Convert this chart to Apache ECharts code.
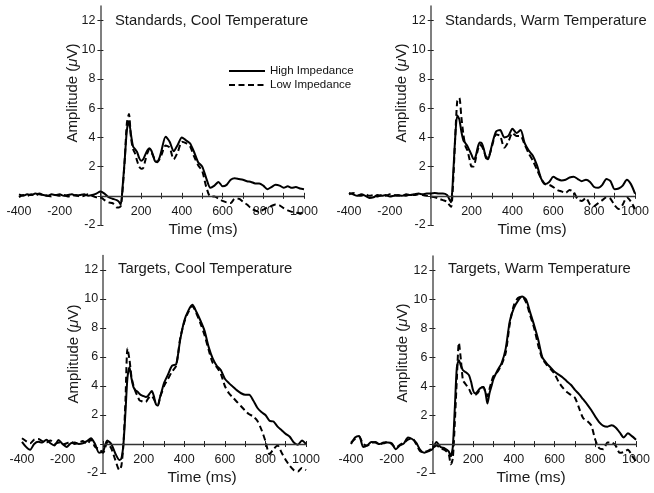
<!DOCTYPE html>
<html><head><meta charset="utf-8">
<script src="https://cdn.jsdelivr.net/npm/echarts@6/dist/echarts.min.js"></script>
<style>html,body{margin:0;padding:0;background:#fff}#c{width:654px;height:493px}</style>
</head><body><div id="c"></div>
<script>
// ---------- DATA ----------
const times = [-400,-380,-360,-340,-320,-300,-280,-260,-240,-220,-200,-180,-160,-140,-120,-100,-80,-60,-40,-20,0,20,40,60,80,
  90,100,110,120,130,140,150,160,170,180,190,200,210,220,230,240,250,260,270,280,290,300,
  320,340,360,380,400,420,440,460,480,500,520,540,560,580,600,620,640,660,680,700,720,740,760,780,800,820,840,860,880,900,920,940,960,980,1000];

const xTickLabels = [-400,-200,200,400,600,800,1000];
const xTickMarks = [0,100,200,300,400,500,600,700,800,900,1000];
const yTickLabels = [-2,2,4,6,8,10,12];
const yTickMarks = [-2,0,2,4,6,8,10,12];
const seriesNames = ['High Impedance','Low Impedance'];
const panelTitles = ['Standards, Cool Temperature','Standards, Warm Temperature','Targets, Cool Temperature','Targets, Warm Temperature'];
const xAxisTitle = 'Time (ms)';

const stdCoolHigh = [0.1,0.0,0.1,0.05,0.15,0.1,0.05,0.0,0.1,0.05,0.1,0.0,0.05,0.1,0.0,0.05,0.1,0.0,0.05,0.15,0.3,0.15,-0.1,-0.2,-0.3,
  -0.4,-0.6,0.8,2.6,4.5,5.1,4.2,3.4,3.2,3.0,2.6,2.4,2.5,2.8,3.1,3.25,3.1,2.7,2.35,2.35,2.6,3.1,
  4.05,3.7,3.05,3.5,4.0,3.8,3.6,3.0,2.3,2.0,1.2,0.55,0.7,0.95,0.65,0.75,1.1,1.2,1.15,1.1,1.0,0.95,0.85,0.85,0.7,0.45,0.6,0.75,0.7,0.55,0.65,0.55,0.6,0.5,0.45];
const stdCoolLow = [-0.1,0.05,0.0,0.1,0.0,0.15,0.05,0.0,-0.05,0.05,0.0,0.05,-0.05,0.0,0.05,-0.05,0.0,0.1,0.0,-0.1,-0.1,-0.3,-0.45,-0.5,-0.8,
  -0.8,-0.7,0.6,2.6,5.0,5.6,4.0,3.2,2.9,2.4,2.0,1.85,1.9,2.4,2.9,3.15,3.0,2.7,2.35,2.3,2.5,2.8,
  3.45,3.3,2.5,3.0,3.7,3.6,3.4,2.7,2.1,1.7,0.6,-0.05,-0.05,-0.2,-0.35,-0.45,-0.5,-0.2,-0.2,-0.4,-0.6,-0.85,-1.0,-1.1,-0.95,-0.8,-0.7,-0.6,-0.65,-0.85,-1.0,-1.1,-1.15,-1.2,-1.1];
const stdWarmHigh = [0.2,0.1,0.0,0.1,0.0,-0.15,-0.1,0.05,0.0,0.05,-0.05,0.0,0.05,0.0,0.1,0.05,0.1,0.15,0.1,0.15,0.15,0.2,0.15,0.15,0.05,
  -0.2,-0.45,1.5,4.0,5.5,5.25,4.4,3.8,3.6,3.4,3.1,2.8,2.5,2.7,3.3,3.65,3.6,3.2,2.6,2.5,2.9,3.5,
  4.4,4.5,4.0,4.1,4.6,4.3,4.5,3.6,3.1,2.75,2.1,1.2,0.8,0.95,1.3,1.15,1.05,1.1,1.25,1.3,1.15,1.0,1.1,0.95,0.6,0.55,0.75,1.15,1.0,0.45,0.5,0.7,1.1,0.8,0.15];
const stdWarmLow = [0.1,0.2,0.05,0.0,0.1,0.0,0.05,-0.05,0.05,0.0,0.1,0.05,0.0,0.05,0.0,0.1,0.05,0.1,0.05,0.0,-0.05,-0.1,-0.2,-0.3,-0.4,
  -0.6,-0.75,1.0,4.0,6.5,6.7,5.4,4.2,3.4,3.1,2.5,2.0,2.0,2.5,3.1,3.5,3.4,3.1,2.7,2.6,2.9,3.4,
  4.2,4.1,3.3,3.7,4.3,4.1,4.1,3.5,2.9,2.4,1.8,1.2,0.8,0.75,0.6,0.4,0.3,0.2,0.4,0.25,-0.25,-0.35,-0.15,-0.6,-0.7,-0.5,-0.3,-0.1,-0.2,-0.65,-0.9,-0.6,-0.1,-0.4,-0.9];
const tgtCoolHigh = [0.15,-0.2,-0.4,0.0,0.15,0.1,0.3,0.05,-0.1,0.28,0.0,-0.2,0.05,0.1,0.0,0.05,0.2,0.4,0.0,-0.6,-0.5,0.25,0.0,-0.65,-1.1,
  -1.0,0.0,2.2,4.6,5.3,4.5,3.9,3.7,3.6,3.45,3.35,3.3,3.25,3.3,3.5,3.65,3.3,2.75,2.65,3.2,3.7,4.2,
  4.8,5.4,5.5,7.2,8.5,9.2,9.6,9.1,8.5,7.8,6.7,5.9,5.4,5.1,4.5,4.2,3.95,3.7,3.5,3.4,3.4,3.0,2.5,2.2,2.0,1.6,1.55,1.2,0.95,0.7,0.5,0.1,-0.05,0.25,0.0];
const tgtCoolLow = [0.4,0.2,0.05,0.3,0.35,0.2,0.1,0.25,0.0,0.1,-0.05,0.05,0.15,0.0,0.1,0.2,0.0,0.3,-0.2,-0.35,-0.6,0.1,-0.3,-1.1,-1.8,
  -1.5,0.0,3.0,6.6,5.8,4.6,4.0,3.6,3.3,3.0,2.95,2.9,2.9,3.1,3.25,3.3,3.1,2.8,2.7,3.2,3.6,4.0,
  4.5,5.0,5.4,7.3,8.4,9.1,9.5,9.0,8.3,7.5,6.5,5.6,5.3,4.85,4.0,3.5,3.2,2.9,2.6,2.3,2.05,1.9,1.6,1.0,0.2,-0.7,-0.35,-0.1,-0.6,-1.1,-1.5,-1.8,-1.9,-1.65,-1.8];
const tgtWarmHigh = [0.0,0.45,0.55,-0.2,-0.1,0.15,0.1,0.0,0.1,0.1,0.05,-0.35,-0.1,0.05,0.45,0.35,0.1,-0.4,-0.6,-0.5,-0.35,0.15,-0.2,-0.3,-0.5,
  -0.85,-0.2,2.5,5.3,5.8,5.4,5.1,5.0,4.9,4.75,4.3,3.7,3.5,3.6,3.8,3.9,3.95,3.6,2.8,3.5,4.0,4.5,
  5.1,5.6,6.6,8.5,9.4,9.9,10.2,10.0,9.1,8.2,7.2,6.0,5.6,5.3,5.0,4.8,4.6,4.35,4.1,3.75,3.45,3.1,2.75,2.35,1.9,1.5,1.25,1.2,1.3,1.15,0.8,0.45,0.75,0.55,0.3];
const tgtWarmLow = [0.1,0.35,0.5,0.0,-0.1,0.1,0.15,0.0,0.05,0.15,0.0,-0.25,-0.05,0.1,0.3,0.4,0.0,-0.5,-0.55,-0.45,-0.3,-0.1,-0.3,-0.4,-0.7,
  -1.4,-1.0,1.5,4.5,7.0,5.8,4.4,4.2,4.0,3.8,3.5,3.4,3.4,3.5,3.7,3.9,3.95,3.6,3.3,3.8,4.3,4.7,
  5.0,5.5,6.3,8.3,9.6,10.1,10.2,9.8,8.9,8.0,6.8,5.9,5.5,5.2,4.85,4.3,3.9,3.6,3.4,3.2,2.5,1.8,1.6,1.3,0.3,-0.3,-0.35,0.1,0.1,-0.1,-0.6,-0.55,-0.4,-0.8,-1.2];

const panelData = [[stdCoolHigh, stdCoolLow],[stdWarmHigh, stdWarmLow],[tgtCoolHigh, tgtCoolLow],[tgtWarmHigh, tgtWarmLow]];

// ---------- LAYOUT ----------
const FONT = '"Liberation Sans", Arial, Helvetica, sans-serif';
const X_MIN = -400, X_MAX = 1000, Y_MIN = -2, Y_MAX = 13;
const grids = [
  {left:19, top:6, width:285, height:219},
  {left:349, top:6, width:286, height:219},
  {left:22, top:255.5, width:284, height:217.5},
  {left:351, top:256, width:285, height:217}
];
const titlePos = [[115,21],[445,21],[118,269],[448,269]];
const xTitlePos = [[203,230],[532,230],[202,478],[531,478]];
const yTitlePos = [[73,93],[402,93],[74,354],[403,353]];

const xAxes = [], yAxes = [], series = [], graphics = [];
grids.forEach((g, i) => {
  // shift axes so they cross at the origin (0 ms, 0 µV)
  const xOff = -g.height * (0 - Y_MIN) / (Y_MAX - Y_MIN);
  const yOff = -g.width * (0 - X_MIN) / (X_MAX - X_MIN);
  const xBase = {gridIndex:i, type:'value', min:X_MIN, max:X_MAX, position:'bottom', offset:xOff,
    axisLine:{show:false, onZero:false}, splitLine:{show:false}};
  xAxes.push(Object.assign({}, xBase, {
    axisTick:{show:true, inside:false, length:3, customValues:xTickMarks, lineStyle:{color:'#222', width:1}},
    axisLabel:{show:true, customValues:xTickLabels, formatter:v => String(v), margin:9, fontSize:12.5, color:'#1a1a1a', fontFamily:FONT}
  }));
  xAxes.push(Object.assign({}, xBase, {
    axisTick:{show:true, inside:true, length:3, customValues:xTickMarks, lineStyle:{color:'#222', width:1}},
    axisLabel:{show:false}
  }));
  const yBase = {gridIndex:i, type:'value', min:Y_MIN, max:Y_MAX, position:'left', offset:yOff, splitLine:{show:false}};
  yAxes.push(Object.assign({}, yBase, {
    axisLine:{show:true, onZero:false, lineStyle:{color:'#555', width:1.5}},
    axisTick:{show:true, inside:false, length:3, customValues:yTickMarks, lineStyle:{color:'#222', width:1}},
    axisLabel:{show:true, customValues:yTickLabels, formatter:v => String(v), margin:5, fontSize:12.5, color:'#1a1a1a', fontFamily:FONT}
  }));
  yAxes.push(Object.assign({}, yBase, {
    axisLine:{show:false, onZero:false},
    axisTick:{show:true, inside:true, length:3, customValues:yTickMarks, lineStyle:{color:'#222', width:1}},
    axisLabel:{show:false}
  }));
  panelData[i].forEach((vals, k) => {
    const s = {
      type:'line', name:seriesNames[k], xAxisIndex:2*i, yAxisIndex:2*i,
      data: times.map((t, j) => [t, vals[j]]),
      symbol:'none', showSymbol:false, smooth:0.25, color:'#000',
      lineStyle:{color:'#000', width:2, type: k === 0 ? 'solid' : [6,3.5]},
      z: 3 + k
    };
    if (k === 0) {
      s.markLine = {silent:true, symbol:'none', label:{show:false},
        lineStyle:{color:'#333', width:1.3, type:'solid'},
        data:[[{coord:[0,0]},{coord:[1000,0]}]]};
    }
    series.push(s);
  });
  graphics.push({type:'text', x:titlePos[i][0], y:titlePos[i][1],
    style:{text:panelTitles[i], font:'14.8px ' + FONT, fill:'#1a1a1a', align:'left', verticalAlign:'middle'}});
  graphics.push({type:'text', x:xTitlePos[i][0], y:xTitlePos[i][1],
    style:{text:xAxisTitle, font:'15.5px ' + FONT, fill:'#1a1a1a', align:'center', verticalAlign:'middle'}});
  graphics.push({type:'text', x:yTitlePos[i][0], y:yTitlePos[i][1], rotation:Math.PI/2,
    style:{text:'{a|Amplitude (}{b|μ}{a|V)}', align:'center', verticalAlign:'middle',
      rich:{a:{fontSize:15, fontFamily:FONT, fill:'#1a1a1a', color:'#1a1a1a'},
            b:{fontSize:15, fontFamily:FONT, fontStyle:'italic', fill:'#1a1a1a', color:'#1a1a1a'}}}});
});

const chart = echarts.init(document.getElementById('c'), null, {renderer:'canvas'});
chart.setOption({
  animation:false,
  backgroundColor:'#fff',
  grid: grids.map(g => Object.assign({outerBoundsMode:'none', containLabel:false}, g)),
  xAxis: xAxes,
  yAxis: yAxes,
  legend: {data:seriesNames, orient:'vertical', left:228, top:65, padding:0, itemWidth:36, itemHeight:12, itemGap:2,
    itemStyle:{color:'rgba(0,0,0,0)', borderWidth:0, opacity:0},
    textStyle:{fontSize:11.5, color:'#111', fontFamily:FONT}, selectedMode:false},
  series: series,
  graphic: graphics
});
</script></body></html>
